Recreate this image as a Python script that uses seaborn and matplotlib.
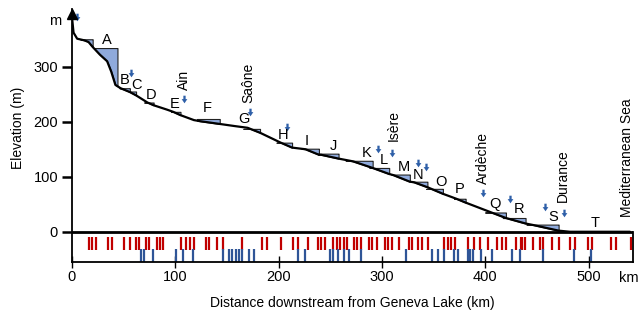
import numpy as np
import seaborn as sns
import matplotlib.pyplot as plt

# Rhone longitudinal profile (km downstream of Geneva Lake, elevation in m)
profile_km = [0, 1.5, 5, 12, 16, 20, 27, 34, 38, 42, 47, 56, 62, 73, 79, 92, 98, 105,
              118, 124, 143, 158, 170, 182, 202, 213, 226, 239, 241, 258, 272, 291,
              307, 311, 327, 331, 344, 359, 372, 381, 406, 420, 439, 447, 471, 482, 540]
profile_m = [390, 362, 351, 348, 345, 336, 322, 310, 291, 267, 261, 254, 248, 235, 230,
             222, 218, 212, 203, 201, 196, 192, 189, 180, 162, 153, 150, 140, 140, 133,
             128, 116, 105, 103, 91, 90, 81, 69, 60, 53, 35, 25, 15, 12, 2, 0, 0]

# reservoirs: letter, start km, dam km, water level (m)
res_letter = ['', 'A', 'B', 'C', 'D', 'E', 'F', 'G', 'H', 'I', 'J', 'K', 'L', 'M',
              'N', 'O', 'P', 'Q', 'R', 'S']
res_start = [8, 21, 46, 55, 70, 96, 121, 166, 198, 222, 238, 265, 288, 309,
             328, 343, 370, 400, 417, 440]
res_end = [20, 44, 56, 62, 79, 105, 143, 182, 213, 239, 258, 291, 307, 327,
           344, 359, 381, 420, 439, 471]
res_level = [350, 334, 261, 255, 235, 218, 205, 187, 162, 151, 142, 129, 116, 104,
             91, 78, 60, 35, 25, 13]

# letter label positions (km, m)
lab_letter = res_letter[1:] + ['T']
lab_x = [34, 50.5, 62, 77, 99, 131, 166, 204, 227, 253, 285, 302, 321, 335, 357,
         375, 409, 433, 466, 506]
lab_y = [349, 276, 267, 249, 233, 225, 205, 176, 165, 156, 144, 131, 118, 104, 91,
         78, 51, 42, 27, 16]

# tributaries / sea
river_names = ['Ain', 'Saône', 'Isère', 'Ardèche', 'Durance', 'Mediterranean Sea']
river_x = [108, 171, 311, 398, 475, 537]
river_y = [276, 271, 193, 135, 102, 134]

# blue arrows
arrow_km = [5, 57, 108, 172, 208, 296, 310, 335, 343, 398, 424, 458, 476]
arrow_m = [391, 289, 242, 218, 191, 151, 144, 125, 118, 71, 60, 45, 35]

# marks in the strip below the profile
red_marks_km = [16.5, 19.7, 23, 34.7, 38.5, 50.5, 56.6, 62.1, 65, 71.8, 74.8, 82.2,
                85.4, 88.1, 105.1, 110.7, 114.6, 118.4, 130, 133, 140.5, 146.3, 164.8,
                184.2, 189, 202.6, 213.6, 218.7, 228.8, 237.9, 240.8, 244.7, 252.4,
                256.3, 259.2, 263.1, 265.7, 273, 275.7, 279.6, 287.4, 290.3, 294.9,
                302.9, 305.8, 309.7, 316.5, 326.2, 329.4, 335, 338.8, 344.7, 360.2,
                364, 367, 370.9, 383.5, 389.3, 395.1, 402.9, 411.4, 416.5, 420.4,
                430.1, 434.3, 435.9, 438.8, 446.3, 452.7, 456.3, 465, 471.2, 481.6,
                487.1, 499, 502.9, 521.6, 526.9, 540.8]
blue_marks_km = [67, 69.6, 78.3, 101, 107.5, 117.2, 146.3, 152.4, 155.3, 159.2, 162.1,
                 165, 170.9, 176.4, 218.4, 225.2, 249.5, 252.4, 257, 263.1, 267.7,
                 279.6, 323.3, 348.5, 354.7, 360.2, 369.9, 373.8, 383.5, 385.4, 388.3,
                 396.1, 406.6, 426.2, 434, 456.3, 486.1, 502]

sns.set_style("ticks")
plt.rcParams['font.family'] = ['Liberation Sans', 'DejaVu Sans']
plt.rcParams['text.color'] = 'black'
plt.rcParams['xtick.color'] = 'black'
plt.rcParams['ytick.color'] = 'black'
plt.rcParams['axes.edgecolor'] = 'black'

fill_blue = '#8FAADC'
arrow_blue = '#2E5FA8'
red = '#C00000'
mark_blue = '#2F5597'

fig = plt.figure(figsize=(6.44, 3.16), dpi=100)
ax = fig.add_axes([72 / 644, 1 - 262 / 316, 561 / 644, 253 / 316])

# reservoirs
for x0, x1, lev in zip(res_start, res_end, res_level):
    xs = np.linspace(x0, x1, 80)
    bottom = np.minimum(np.interp(xs, profile_km, profile_m), lev)
    ax.fill_between(xs, bottom, lev, facecolor=fill_blue, edgecolor='#222222',
                    linewidth=0.8, zorder=2)

# profile
sns.lineplot(x=profile_km, y=profile_m, color='black', linewidth=1.6, ax=ax, zorder=3)
ax.plot([0, 543], [0, 0], color='black', linewidth=2, zorder=3)

# strip marks
ax.vlines(red_marks_km, -34, -9, color=red, linewidth=1.6, zorder=2)
ax.vlines(blue_marks_km, -55, -31, color=mark_blue, linewidth=1.6, zorder=2)

# arrows
arrow_shape = [(-0.3, 1), (0.3, 1), (0.3, 0.1), (0.75, 0.1), (0, -1), (-0.75, 0.1),
               (-0.3, 0.1), (-0.3, 1)]
ax.scatter(arrow_km, arrow_m, marker=arrow_shape, s=30, color=arrow_blue,
           linewidths=0, zorder=5, clip_on=False)

for t, x, y in zip(lab_letter, lab_x, lab_y):
    ax.text(x, y, t, ha='center', va='center', fontsize=10.5, zorder=6)
for t, x, y in zip(river_names, river_x, river_y):
    ax.text(x, y, t, ha='center', va='center', fontsize=10, rotation=90, zorder=6)

ax.set_xlim(0, 543)
ax.set_ylim(-55, 405)
ax.spines['top'].set_visible(False)
ax.spines['right'].set_bounds(-55, 0)
for s in ['left', 'bottom', 'right']:
    ax.spines[s].set_linewidth(1.3)
ax.plot([0], [396], marker='^', markersize=7, color='black', clip_on=False, zorder=6)

ax.set_xticks([0, 100, 200, 300, 400, 500])
ax.set_yticks([0, 100, 200, 300])
ax.tick_params(axis='x', direction='inout', length=8, width=1, pad=2, labelsize=10.5)
ax.tick_params(axis='y', direction='out', length=7, width=1.8, pad=3, labelsize=10.5)
ax.text(-16.5, 383, 'm', ha='center', va='center', fontsize=10.5)
ax.text(539, -84, 'km', ha='center', va='center', fontsize=10.5)

fig.text(352 / 644, 1 - 303 / 316, 'Distance downstream from Geneva Lake (km)',
         ha='center', va='center', fontsize=10)
fig.text(18 / 644, 1 - 128 / 316, 'Elevation (m)', ha='center', va='center',
         fontsize=10, rotation=90)

fig.savefig('out.png', dpi=100)
